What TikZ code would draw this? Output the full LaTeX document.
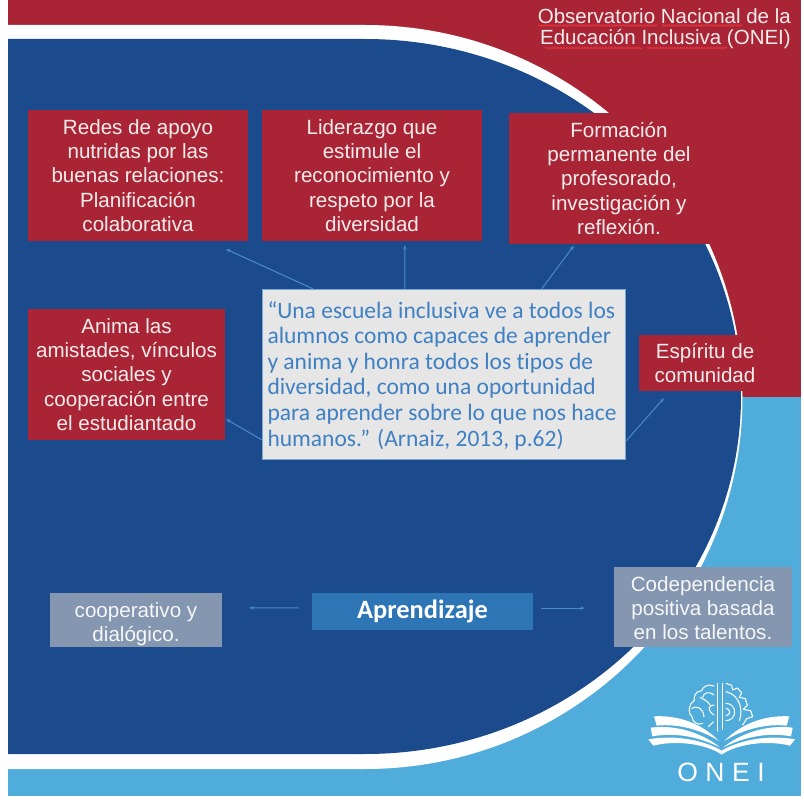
\documentclass[tikz,border=0pt]{standalone}
\usepackage{fontspec}
\setmainfont{Liberation Sans}
\newfontfamily\calib[Ligatures=NoCommon]{Carlito}
\usetikzlibrary{arrows.meta,decorations.pathmorphing}
\definecolor{ored}{HTML}{A92536}
\definecolor{oblue}{HTML}{1B4A8D}
\definecolor{osky}{HTML}{4FACDB}
\definecolor{ogrey}{HTML}{8496B0}
\definecolor{oapr}{HTML}{2E75B6}
\definecolor{oquote}{HTML}{E6E6E6}
\definecolor{oqtext}{HTML}{3F80C2}
\definecolor{oconn}{HTML}{4A8CCB}
\definecolor{otxt}{HTML}{F7ECEC}
\definecolor{osq}{HTML}{E8343C}
\tikzset{
  boxbase/.style={inner sep=0pt,align=center,text=otxt,
    font={\fontsize{20.6}{24.4}\selectfont}},
  redbox/.style={boxbase,fill=ored},
  greybox/.style={boxbase,fill=ogrey,text=white!92!ogrey},
  conn/.style={draw=oconn,line width=1pt,-{Stealth[length=4.5pt,width=3.5pt]}},
  squig/.style={draw=osq,line width=0.8pt,decorate,decoration={snake,amplitude=0.8pt,segment length=3pt}},
  logoline/.style={draw=white,line width=1.05pt,line cap=round,line join=round},
}
\begin{document}
\begin{tikzpicture}[x=1pt,y=-1pt]
\useasboundingbox (0,0) rectangle (804,800);
\fill[white] (0,0) rectangle (804,800);
% bands
\fill[ored] (8,0) rectangle (801,397);
\fill[osky] (8,397) rectangle (801,796);
% white crescent
\fill[white] (8,25) -- (365,25) arc[start angle=-90,end angle=90,x radius=377.5,y radius=372] -- (8,769) -- cycle;
% blue disc
\fill[oblue] (8,39) -- (365,39) arc[start angle=-90,end angle=90,x radius=376,y radius=357.5] -- (8,754) -- cycle;
% title
\node[anchor=north east,inner sep=0pt,align=right,text=otxt,font={\fontsize{20.5}{21.5}\selectfont}] (title) at (791,8)
  {Observatorio Nacional de la\\Educación Inclusiva (ONEI)};
\coordinate (sq1a) at (538,25.5); \coordinate (sq1b) at (657,25.5);
\coordinate (sq2a) at (662,25.5); \coordinate (sq2b) at (742,25.5);
\coordinate (sq3a) at (545,48); \coordinate (sq3b) at (642,48);
\coordinate (sq4a) at (647,48); \coordinate (sq4b) at (727,48);
\draw[squig] (sq1a) -- (sq1b);
\draw[squig] (sq2a) -- (sq2b);
\draw[squig] (sq3a) -- (sq3b);
\draw[squig] (sq4a) -- (sq4b);
% boxes
\node[redbox,minimum width=220pt,minimum height=131pt] (r1) at (138,175.5)
  {Redes de apoyo\\nutridas por las\\buenas relaciones:\\Planificación\\colaborativa};
\node[redbox,minimum width=220pt,minimum height=131pt] (r2) at (372,175.5)
  {Liderazgo que\\estimule el\\reconocimiento y\\respeto por la\\diversidad};
\node[redbox,minimum width=220pt,minimum height=131pt] (r3) at (619,178.5)
  {Formación\\permanente del\\profesorado,\\investigación y\\reflexión.};
\node[redbox,minimum width=197pt,minimum height=131pt] (r4) at (126.5,374.5)
  {Anima las\\amistades, vínculos\\sociales y\\cooperación entre\\el estudiantado};
\node[redbox,minimum width=132pt,minimum height=56pt] (r5) at (705,363)
  {Espíritu de\\comunidad};
\node[fill=oquote,draw=oconn!70!oquote,line width=0.5pt,inner xsep=5.5pt,inner ysep=0pt,text width=352pt,minimum height=170pt,align=flush left,text=oqtext,
  font={\calib\fontsize{23.5}{25.6}\selectfont}] (quote) at (443.5,374)
  {\rule{0pt}{20pt}“Una escuela inclusiva ve a todos los\\alumnos como capaces de aprender\\y anima y honra todos los tipos de\\diversidad, como una oportunidad\\para aprender sobre lo que nos hace\\humanos.” (Arnaiz, 2013, p.62)};
\node[greybox,minimum width=172pt,minimum height=54pt] (gl) at (136,620)
  {\rule{0pt}{23pt}cooperativo y\\dialógico.};
\node[inner sep=0pt,fill=oapr,text=white,minimum width=221pt,minimum height=37pt,font={\calib\bfseries\fontsize{26.4}{28}\selectfont}] (apr) at (422.5,611.5) {Aprendizaje};
\node[greybox,minimum width=178pt,minimum height=80pt] (gr) at (703,607)
  {\rule{0pt}{17pt}Codependencia\\positiva basada\\en los talentos.};
% connectors
\path (quote.north west) ++(51,0) coordinate (s1);
\path (r1.south east) ++(-22,8) coordinate (e1);
\path (quote.north west) ++(143,0) coordinate (s2);
\path (r2.south west) ++(143,4) coordinate (e2);
\path (quote.north west) ++(280,0) coordinate (s3);
\path (r3.south west) ++(65,1.5) coordinate (e3);
\path (quote.north west) ++(0,151) coordinate (s4);
\path (r4.south east) ++(1,-21) coordinate (e4);
\path (quote.north east) ++(1,152) coordinate (s5);
\path (r5.south west) ++(25,7) coordinate (e5);
\path (apr.west) ++(-13,-3.5) coordinate (s6);
\path (gl.north east) ++(27,15) coordinate (e6);
\path (apr.east) ++(8,-3.5) coordinate (s7);
\path (gr.west) ++(-29,1) coordinate (e7);
\draw[conn] (s1) -- (e1);
\draw[conn] (s2) -- (e2);
\draw[conn] (s3) -- (e3);
\draw[conn] (s4) -- (e4);
\draw[conn] (s5) -- (e5);
\draw[conn] (s6) -- (e6);
\draw[conn] (s7) -- (e7);
% logo
\begin{scope}[shift={(600,660)},scale=0.33333]
  \foreach \s in {1,-1}{
    \begin{scope}[shift={(365,0)},xscale=\s]
      \fill[white] (-203,169) .. controls (-130,165) and (-60,190) .. (-8,243)
        .. controls (-60,210) and (-130,190) .. (-195,197) -- cycle;
      \fill[white] (-213,203) .. controls (-130,192) and (-50,225) .. (-5,262)
        .. controls (-60,235) and (-130,215) .. (-208,229) -- cycle;
      \fill[white] (-220,238) .. controls (-130,222) and (-45,245) .. (0,272)
        -- (0,284) .. controls (-40,255) and (-130,238) .. (-205,257) -- cycle;
    \end{scope}
  }
  % stem
  \draw[logoline,line width=1.3pt] (353,70) -- (353,213);
  \draw[logoline,line width=1.3pt] (368,70) -- (368,208);
  % brain
  \draw[logoline] (342,78) .. controls (325,70) and (308,80) .. (305,92)
    .. controls (285,92) and (280,115) .. (283,122)
    .. controls (265,130) and (262,160) .. (277,172)
    .. controls (275,185) and (295,198) .. (308,190);
  \draw[logoline] (342,105) .. controls (325,92) and (312,98) .. (308,112);
  \draw[logoline] (275,145) .. controls (290,135) and (310,145) .. (312,170);
  \draw[logoline] (342,135) .. controls (325,135) and (320,150) .. (342,165);
  \draw[logoline] (300,112) .. controls (315,120) and (325,125) .. (330,135);
  \draw[logoline] (340,185) -- (325,200);
  % gear
  \draw[logoline] (378,70) -- (395,76) -- (398,90) -- (412,84) -- (425,98) -- (418,112)
    -- (436,116) -- (442,136) -- (430,148) -- (452,152) -- (458,170) -- (440,176) -- (428,195);
  \draw[logoline] (378,130) arc[start angle=-90,end angle=90,radius=26];
  \draw[logoline] (378,95) .. controls (420,105) and (430,150) .. (418,182);
  \draw[logoline] (378,145) arc[start angle=-90,end angle=90,radius=11];
\end{scope}
\node[inner sep=0pt,text=white,font={\fontsize{26.5}{30}\selectfont}] (onei) at (721,772)
  {O\hspace{7.5pt}N\hspace{7.5pt}E\hspace{7.5pt}I};
\end{tikzpicture}
\end{document}
